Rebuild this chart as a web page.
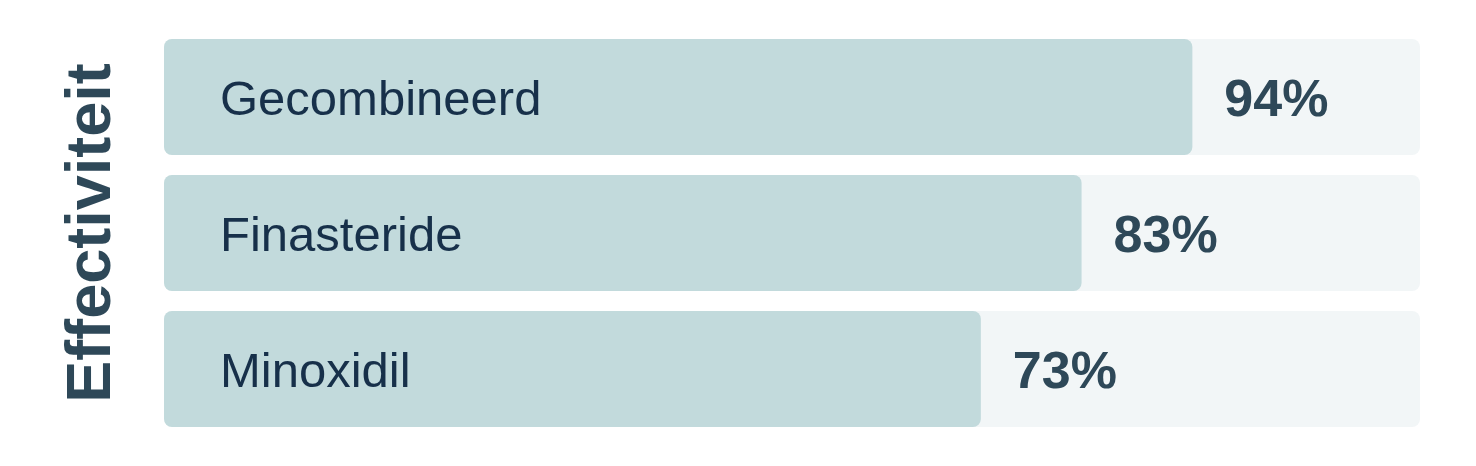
<!DOCTYPE html>
<html>
<head>
<meta charset="utf-8">
<script src="https://cdn.jsdelivr.net/npm/d3@7"></script>
<style>
  body { margin: 0; background: #ffffff; }
  svg { display: block; }
</style>
</head>
<body>
<div id="chart"></div>
<script>
const categories = ['Gecombineerd', 'Finasteride', 'Minoxidil']
const values = [94, 83, 73]
const axisTitle = 'Effectiviteit'

const margin = { top: 39, left: 164, right: 56, bottom: 39 }
const totalWidth = 1476
const totalHeight = 466
const width = totalWidth - margin.left - margin.right
const height = totalHeight - margin.top - margin.bottom

const svg = d3
  .select('#chart')
  .append('svg')
  .attr('width', totalWidth)
  .attr('height', totalHeight)
  .append('g')
  .attr('transform', 'translate(' + margin.left + ',' + margin.top + ')')

// the bars don't start at zero in the original, so the domain is offset
const xPositionScale = d3
  .scaleLinear()
  .domain([-8.1, 116.6])
  .range([0, width])

const yPositionScale = d3
  .scaleBand()
  .domain(categories)
  .range([0, height])
  .paddingInner(20 / 136)

const rows = categories.map((c, i) => ({ name: c, value: values[i] }))

// background tracks
svg
  .selectAll('.track')
  .data(rows)
  .enter()
  .append('rect')
  .attr('class', 'track')
  .attr('x', 0)
  .attr('y', d => yPositionScale(d.name))
  .attr('width', width)
  .attr('height', yPositionScale.bandwidth())
  .attr('rx', 8)
  .attr('fill', '#f2f6f7')

// value bars
svg
  .selectAll('.bar')
  .data(rows)
  .enter()
  .append('rect')
  .attr('class', 'bar')
  .attr('x', 0)
  .attr('y', d => yPositionScale(d.name))
  .attr('width', d => xPositionScale(d.value))
  .attr('height', yPositionScale.bandwidth())
  .attr('rx', 8)
  .attr('fill', '#c2dadc')

const fontFamily = '"Liberation Sans", Arial, Helvetica, sans-serif'

// category names inside the bars
svg
  .selectAll('.cat-label')
  .data(rows)
  .enter()
  .append('text')
  .attr('class', 'cat-label')
  .attr('x', 56)
  .attr('y', d => yPositionScale(d.name) + yPositionScale.bandwidth() / 2 + 17.5)
  .attr('font-family', fontFamily)
  .attr('font-size', 49)
  .attr('fill', '#17304a')
  .text(d => d.name)

// percentages after the bars
svg
  .selectAll('.value-label')
  .data(rows)
  .enter()
  .append('text')
  .attr('class', 'value-label')
  .attr('x', d => xPositionScale(d.value) + 32)
  .attr('y', d => yPositionScale(d.name) + yPositionScale.bandwidth() / 2 + 19)
  .attr('font-family', fontFamily)
  .attr('font-size', 52)
  .attr('font-weight', 'bold')
  .attr('fill', '#2e4858')
  .text(d => d.value + '%')

// rotated axis title
svg
  .append('text')
  .attr('transform', 'translate(' + (110 - margin.left) + ',' + (height / 2) + ') rotate(-90)')
  .attr('text-anchor', 'middle')
  .attr('font-family', fontFamily)
  .attr('font-size', 63)
  .attr('font-weight', 'bold')
  .attr('fill', '#2e4858')
  .text(axisTitle)
</script>
</body>
</html>
